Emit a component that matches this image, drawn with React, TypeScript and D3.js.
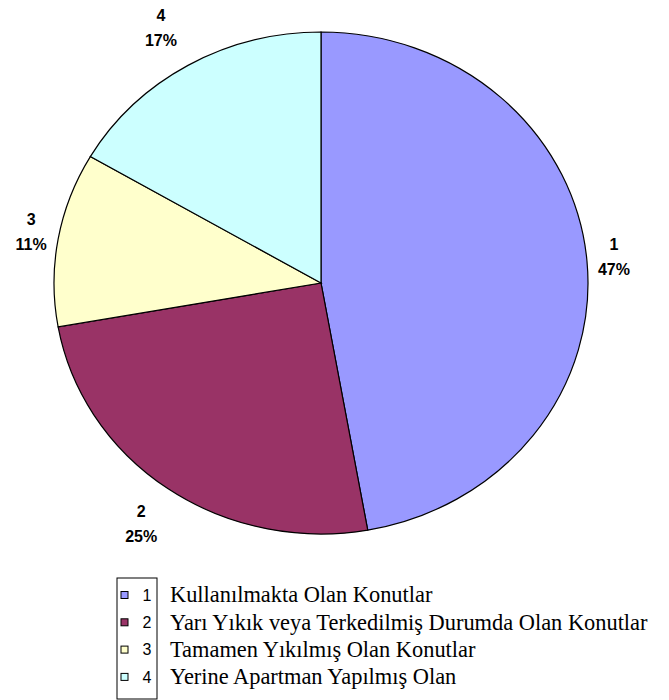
import React from "react";
import * as d3 from "d3";

const categories = ["1", "2", "3", "4"];
const values = [47.2, 25.0, 11.2, 16.6];
const percentLabels = ["47%", "25%", "11%", "17%"];
const legendLabels = [
  "Kullanılmakta Olan Konutlar",
  "Yarı Yıkık veya Terkedilmiş Durumda Olan Konutlar",
  "Tamamen Yıkılmış Olan Konutlar",
  "Yerine Apartman Yapılmış Olan",
];
const colors = ["#9999FF", "#993366", "#FFFFCC", "#CCFFFF"];

const SANS = "'Liberation Sans', Arial, Helvetica, sans-serif";
const SERIF = "'Liberation Serif', 'Times New Roman', Times, serif";

export default function App() {
  const W = 669;
  const H = 700;
  const cx = 321;
  const cy = 283;
  const rx = 267;
  const ry = 251;

  const data = categories.map((c, i) => ({ cat: c, value: values[i], pct: percentLabels[i], color: colors[i], label: legendLabels[i] }));
  const pie = d3.pie<any>().value((d) => d.value).sort(null).startAngle(0).endAngle(2 * Math.PI);
  const arcs = pie(data);
  const arc = d3.arc<any>().innerRadius(0).outerRadius(ry);

  const legendX = 117;
  const legendY = 578;
  const rowH = 27.3;

  return (
    <svg width={W} height={H} style={{ position: "absolute", left: 0, top: 0, background: "#fff" }}>
      <g transform={`translate(${cx},${cy}) scale(${rx / ry},1)`}>
        {arcs.map((a, i) => (
          <path key={i} d={arc(a) as string} fill={a.data.color} stroke="#000" strokeWidth={1.2} vectorEffect="non-scaling-stroke" />
        ))}
      </g>
      {arcs.map((a, i) => {
        const mid = (a.startAngle + a.endAngle) / 2;
        const s = Math.sin(mid);
        const x = cx + rx * s + Math.sign(s) * 27;
        const y = cy - (ry + 43) * Math.cos(mid);
        return (
          <g key={"l" + i} style={{ fontFamily: SANS }} fontWeight="bold" fontSize={16} textAnchor="middle" fill="#000">
            <text x={x} y={y - 12.5} dy="0.35em">{a.data.cat}</text>
            <text x={x} y={y + 12.5} dy="0.35em">{a.data.pct}</text>
          </g>
        );
      })}
      <rect x={legendX} y={legendY} width={40} height={121} fill="#fff" stroke="#000" strokeWidth={1} />
      {data.map((d, i) => {
        const yc = legendY + 17 + i * rowH;
        return (
          <g key={"lg" + i}>
            <rect x={legendX + 4} y={yc - 3.5} width={7} height={7} fill={d.color} stroke="#000" strokeWidth={1} />
            <text x={legendX + 30} y={yc} dy="0.36em" textAnchor="middle" style={{ fontFamily: SANS }} fontSize={16} fill="#000">{d.cat}</text>
            <text x={170} y={yc} dy="0.33em" style={{ fontFamily: SERIF }} fontSize={22.4} fill="#000">{d.label}</text>
          </g>
        );
      })}
    </svg>
  );
}
